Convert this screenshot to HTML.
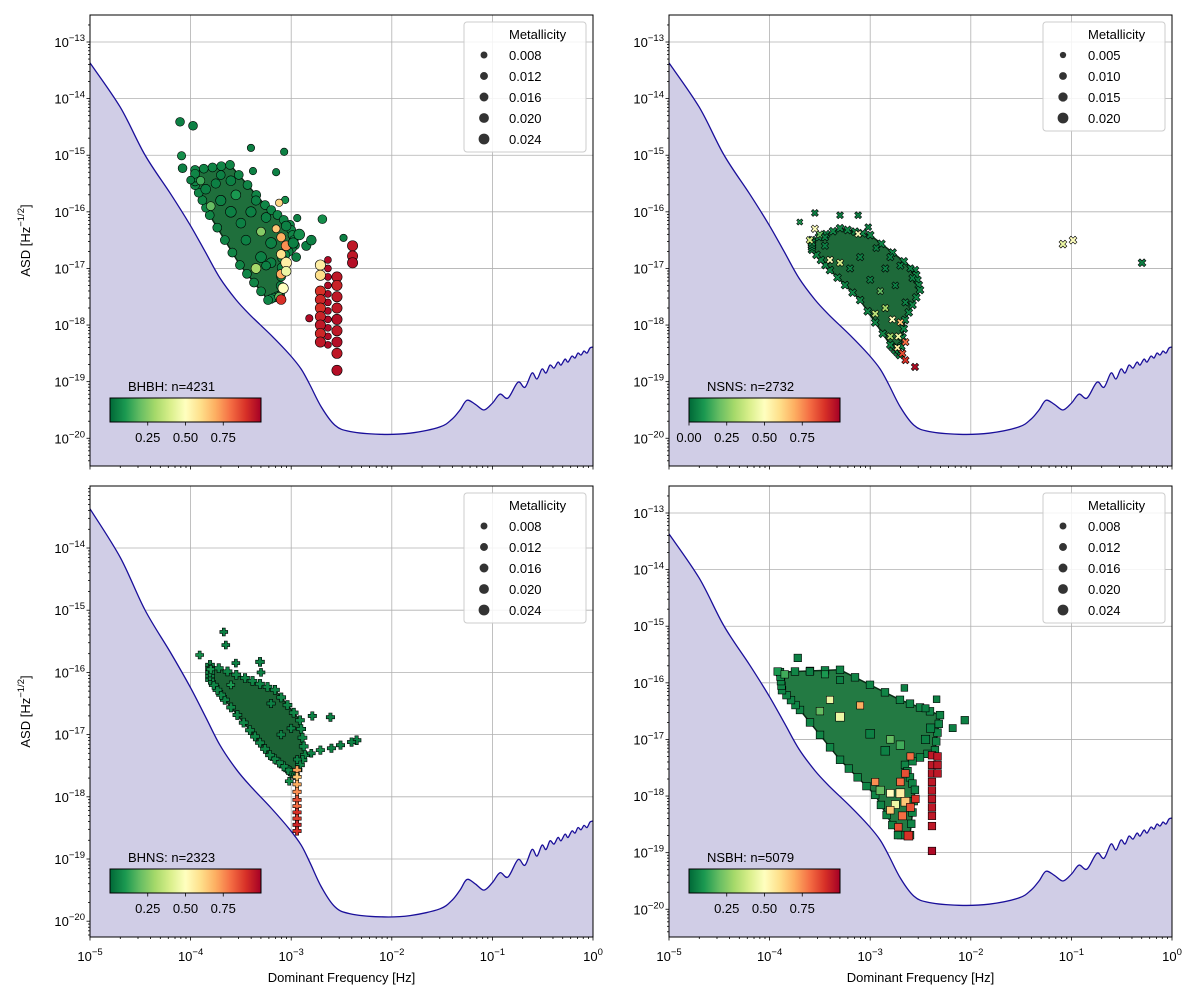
<!DOCTYPE html>
<html><head><meta charset="utf-8"><style>
html,body{margin:0;padding:0;background:#fff}
svg{display:block;font-family:"Liberation Sans","DejaVu Sans",sans-serif}
</style></head><body>
<svg id="fig" width="1200" height="1000" viewBox="0 0 1200 1000" xmlns="http://www.w3.org/2000/svg">
<defs>
<linearGradient id="cmap" x1="0" x2="1" y1="0" y2="0">
<stop offset="0" stop-color="#006837"/><stop offset="0.1" stop-color="#1a9850"/><stop offset="0.2" stop-color="#66bd63"/><stop offset="0.3" stop-color="#a6d96a"/><stop offset="0.4" stop-color="#d9ef8b"/><stop offset="0.5" stop-color="#ffffbf"/><stop offset="0.6" stop-color="#fee08b"/><stop offset="0.7" stop-color="#fdae61"/><stop offset="0.8" stop-color="#f46d43"/><stop offset="0.9" stop-color="#d73027"/><stop offset="1" stop-color="#a50026"/>
</linearGradient>
</defs>
</svg>
<script>
// ---- sensitivity curve data (log10 f, log10 ASD) ----
const curveLogF = [-5.00,-4.70,-4.453,-4.20,-4.006,-3.85,-3.708,-3.55,-3.410,-3.20,-3.012,-2.90,-2.813,-2.70,-2.565,-2.416,-2.117,-1.819,-1.521,-1.40,-1.322,-1.253,-1.17,-1.084,-1.00,-0.924,-0.845,-0.746,-0.676,-0.606,-0.557,-0.507,-0.467,-0.427,-0.388,-0.348,-0.318,-0.278,-0.249,-0.209,-0.179,-0.149,-0.119,-0.089,-0.060,-0.030,0.000];
const curveLogA = [-13.37,-14.15,-14.997,-15.68,-16.23,-16.72,-17.17,-17.55,-17.82,-18.18,-18.53,-18.78,-19.06,-19.45,-19.77,-19.88,-19.93,-19.91,-19.80,-19.66,-19.50,-19.33,-19.40,-19.50,-19.38,-19.22,-19.29,-19.01,-19.10,-18.848,-18.954,-18.777,-18.848,-18.707,-18.760,-18.654,-18.707,-18.601,-18.654,-18.548,-18.583,-18.495,-18.530,-18.459,-18.495,-18.406,-18.389];

// ---- scatter data: [log10 f, log10 ASD, colour value, metallicity] ----
const bhbhCore = [[-3.956,-15.26],[-3.608,-15.17],[-3.26,-15.88],[-3.012,-16.23],[-2.962,-16.59],[-3.09,-16.82],[-3.11,-17.47],[-3.23,-17.56],[-3.51,-16.94],[-3.81,-16.06],[-3.956,-15.53]];
const bhbhPoints = [
[-4.105,-14.41,0.05,0.016],[-3.976,-14.48,0.05,0.016],[-4.09,-15.01,0.08,0.014],[-4.08,-15.23,0.05,0.016],[-4.0,-15.44,0.05,0.012],
[-3.40,-14.87,0.05,0.010],[-3.07,-14.94,0.05,0.010],[-3.15,-15.30,0.05,0.010],[-3.06,-15.79,0.08,0.010],[-3.12,-15.84,0.62,0.010],
[-2.94,-16.11,0.05,0.010],[-2.69,-16.13,0.08,0.016],[-2.48,-16.46,0.05,0.010],[-3.38,-15.28,0.05,0.010],
[-3.9,-15.45,0.15,0.014],[-3.85,-15.6,0.05,0.02],[-3.75,-15.5,0.05,0.018],[-3.7,-15.35,0.05,0.016],[-3.6,-15.45,0.05,0.02],[-3.55,-15.7,0.1,0.02],
[-3.7,-15.8,0.05,0.022],[-3.8,-15.9,0.2,0.016],[-3.6,-16.0,0.05,0.024],[-3.5,-16.2,0.05,0.02],[-3.4,-16.0,0.05,0.022],[-3.35,-15.8,0.05,0.018],
[-3.45,-16.5,0.05,0.02],[-3.3,-16.35,0.25,0.016],[-3.25,-16.1,0.05,0.02],[-3.2,-16.55,0.05,0.024],[-3.15,-16.3,0.65,0.012],[-3.1,-16.45,0.7,0.016],
[-3.05,-16.25,0.05,0.02],[-3.05,-16.6,0.75,0.02],[-3.1,-16.75,0.6,0.018],[-3.05,-16.9,0.55,0.024],[-3.2,-16.9,0.05,0.02],[-3.3,-16.8,0.05,0.024],
[-3.1,-17.1,0.7,0.018],[-3.05,-17.05,0.45,0.02],[-3.08,-17.35,0.5,0.022],[-3.12,-17.5,0.2,0.016],[-3.1,-17.55,0.9,0.02],[-2.98,-16.55,0.05,0.022],
[-2.92,-16.4,0.08,0.024],[-2.85,-16.6,0.05,0.018],[-2.8,-16.5,0.05,0.02],[-2.95,-16.8,0.05,0.016],[-3.35,-17.0,0.3,0.02],[-3.25,-16.95,0.05,0.016],
[-2.635,-16.85,0.98,0.008],[-2.635,-17.0,0.98,0.008],[-2.635,-17.15,0.98,0.008],[-2.635,-17.3,0.98,0.008],[-2.635,-17.45,0.98,0.008],[-2.635,-17.6,0.98,0.008],
[-2.635,-17.75,0.98,0.008],[-2.635,-17.9,0.98,0.008],[-2.635,-18.05,0.98,0.008],[-2.635,-18.2,0.98,0.008],[-2.635,-18.35,0.98,0.008],
[-2.71,-16.94,0.55,0.022],[-2.71,-17.12,0.6,0.022],[-2.71,-17.4,0.9,0.022],[-2.71,-17.55,0.92,0.022],[-2.71,-17.7,0.9,0.022],[-2.71,-17.85,0.93,0.022],
[-2.71,-18.0,0.95,0.022],[-2.71,-18.15,0.92,0.022],[-2.71,-18.3,0.95,0.022],
[-2.545,-17.15,0.95,0.022],[-2.545,-17.3,0.93,0.022],[-2.545,-17.5,0.95,0.022],[-2.545,-17.7,0.95,0.022],[-2.545,-17.9,0.97,0.022],[-2.545,-18.1,0.95,0.022],
[-2.545,-18.3,0.97,0.022],[-2.545,-18.5,0.95,0.022],[-2.545,-18.8,0.97,0.022],
[-2.39,-16.6,0.95,0.022],[-2.39,-16.78,0.95,0.022],[-2.39,-16.9,0.97,0.022],[-2.82,-17.88,0.98,0.010]];

const nsnsCore = [[-3.579,-16.50],[-3.30,-16.29],[-3.0,-16.41],[-2.555,-17.03],[-2.505,-17.38],[-2.654,-17.91],[-2.704,-18.53],[-2.80,-18.35],[-3.10,-17.56],[-3.40,-17.03],[-3.579,-16.67]];
const nsnsPoints = [
[-3.70,-16.18,0.1,0.008],[-3.55,-16.02,0.05,0.012],[-3.30,-16.06,0.05,0.012],[-3.12,-16.06,0.05,0.012],[-3.02,-16.27,0.05,0.012],[-2.94,-16.64,0.05,0.012],
[-3.55,-16.3,0.5,0.014],[-3.12,-16.39,0.5,0.012],[-3.5,-16.4,0.2,0.014],[-3.45,-16.45,0.05,0.014],[-3.6,-16.5,0.4,0.014],[-3.4,-16.85,0.5,0.014],
[-3.3,-16.9,0.4,0.014],[-3.2,-17.0,0.05,0.014],[-3.1,-16.8,0.05,0.014],[-2.8,-16.8,0.05,0.014],[-2.7,-16.95,0.05,0.014],[-2.6,-17.0,0.05,0.014],
[-2.58,-17.17,0.05,0.014],[-2.75,-17.3,0.05,0.012],[-2.9,-17.4,0.2,0.012],[-2.85,-17.7,0.3,0.014],[-2.95,-17.8,0.35,0.014],[-2.78,-17.9,0.5,0.014],
[-2.7,-17.95,0.65,0.012],[-2.72,-18.2,0.45,0.014],[-2.8,-18.2,0.3,0.014],[-2.73,-18.4,0.55,0.012],[-2.65,-18.3,0.8,0.014],[-2.68,-18.5,0.85,0.014],
[-2.65,-18.62,0.9,0.014],[-2.555,-18.74,0.97,0.014],[-1.084,-16.57,0.45,0.016],[-0.984,-16.50,0.5,0.016],[-0.298,-16.90,0.05,0.016],
[-3.45,-16.6,0.05,0.014],[-3.0,-17.2,0.05,0.014],[-2.65,-17.6,0.05,0.014],[-2.85,-17.0,0.05,0.014]];

const bhnsCore = [[-3.807,-15.88],[-3.459,-16.09],[-3.161,-16.28],[-2.913,-16.77],[-2.863,-17.33],[-2.962,-17.65],[-3.03,-17.57],[-3.211,-17.33],[-3.41,-16.93],[-3.66,-16.44],[-3.807,-16.12]];
const bhnsPoints = [
[-3.67,-15.35,0.05,0.012],[-3.65,-15.56,0.05,0.012],[-3.91,-15.72,0.08,0.012],[-3.31,-15.83,0.05,0.016],[-3.8,-15.95,0.1,0.012],[-3.55,-15.85,0.05,0.012],
[-3.3,-16.0,0.05,0.012],[-2.79,-16.70,0.05,0.014],[-2.61,-16.72,0.05,0.014],[-2.35,-17.09,0.05,0.016],[-2.4,-17.12,0.05,0.014],[-2.51,-17.17,0.05,0.014],
[-2.6,-17.22,0.05,0.014],[-2.71,-17.25,0.08,0.014],[-2.8,-17.3,0.05,0.012],[-2.94,-17.4,0.05,0.012],[-3.02,-17.75,0.08,0.012],[-3.2,-16.5,0.05,0.014],
[-3.6,-16.2,0.1,0.012],[-3.0,-16.9,0.05,0.014],[-3.1,-17.0,0.05,0.014],
[-2.942,-17.57,0.72,0.014],[-2.942,-17.68,0.65,0.014],[-2.942,-17.8,0.7,0.014],[-2.942,-17.92,0.75,0.014],[-2.942,-18.05,0.85,0.014],
[-2.942,-18.15,0.8,0.014],[-2.942,-18.25,0.9,0.014],[-2.942,-18.35,0.88,0.014],[-2.942,-18.45,0.92,0.014],[-2.942,-18.55,0.9,0.014]];

const nsbhCore = [[-3.897,-15.81],[-3.30,-15.77],[-2.704,-16.30],[-2.306,-16.57],[-2.356,-17.19],[-2.654,-17.45],[-2.555,-17.89],[-2.604,-18.69],[-2.724,-18.69],[-2.95,-17.98],[-3.30,-17.36],[-3.698,-16.48],[-3.877,-16.13]];
const nsbhPoints = [
[-3.72,-15.56,0.05,0.016],[-3.92,-15.8,0.1,0.016],[-3.85,-15.85,0.15,0.016],[-3.6,-15.8,0.05,0.016],[-3.45,-15.85,0.1,0.014],[-3.3,-15.95,0.05,0.014],
[-2.66,-16.09,0.05,0.012],[-2.06,-16.66,0.05,0.016],[-2.18,-16.80,0.05,0.014],[-2.34,-16.29,0.05,0.012],[-2.45,-16.45,0.05,0.014],[-2.4,-16.8,0.05,0.02],
[-2.45,-17.0,0.05,0.02],[-3.3,-16.6,0.45,0.022],[-3.1,-16.4,0.7,0.014],[-3.4,-16.3,0.45,0.014],[-3.5,-16.5,0.2,0.016],[-3.0,-16.9,0.05,0.022],
[-2.8,-17.0,0.2,0.016],[-2.85,-17.2,0.05,0.022],[-2.7,-17.1,0.15,0.02],
[-2.95,-17.75,0.75,0.014],[-2.9,-17.9,0.2,0.02],[-2.8,-17.95,0.5,0.016],[-2.7,-17.95,0.55,0.022],[-2.75,-18.15,0.45,0.018],[-2.65,-18.1,0.65,0.022],
[-2.8,-18.25,0.65,0.016],[-2.68,-18.35,0.8,0.018],[-2.6,-18.2,0.85,0.018],[-2.55,-18.05,0.9,0.016],[-2.72,-18.55,0.85,0.016],[-2.62,-18.7,0.9,0.022],
[-2.7,-17.75,0.8,0.016],[-2.65,-17.6,0.85,0.016],[-2.6,-17.3,0.8,0.014],
[-2.386,-17.28,0.95,0.016],[-2.386,-17.45,0.95,0.016],[-2.386,-17.6,0.95,0.016],[-2.386,-17.75,0.95,0.016],[-2.386,-17.9,0.95,0.016],
[-2.386,-18.05,0.95,0.016],[-2.386,-18.2,0.95,0.016],[-2.386,-18.35,0.95,0.016],[-2.33,-17.3,0.95,0.016],[-2.33,-17.45,0.95,0.016],
[-2.33,-17.6,0.95,0.016],[-2.386,-18.53,0.95,0.016],[-2.386,-18.97,0.98,0.016]];

const xTickExp = [-5,-4,-3,-2,-1,0];
const legendMetalsA = ["0.008","0.012","0.016","0.020","0.024"];
const legendMetalsB = ["0.005","0.010","0.015","0.020"];
const cbarTicksA = ["0.25","0.50","0.75"];
const cbarTicksB = ["0.00","0.25","0.50","0.75"];

const NS = "http://www.w3.org/2000/svg";
const svg = document.getElementById('fig');
function el(tag, attrs, parent){ const e=document.createElementNS(NS,tag); for(const k in attrs) e.setAttribute(k,attrs[k]); (parent||svg).appendChild(e); return e; }

const cstops = [[0,[0,104,55]],[0.1,[26,152,80]],[0.2,[102,189,99]],[0.3,[166,217,106]],[0.4,[217,239,139]],[0.5,[255,255,191]],[0.6,[254,224,139]],[0.7,[253,174,97]],[0.8,[244,109,67]],[0.9,[215,48,39]],[1,[165,0,38]]];
function cmap(v){ v=Math.max(0,Math.min(1,v)); for(let i=0;i<cstops.length-1;i++){ const a=cstops[i],b=cstops[i+1]; if(v<=b[0]){ const t=(v-a[0])/(b[0]-a[0]); return 'rgb('+a[1].map((c,j)=>Math.round(c+(b[1][j]-c)*t)).join(',')+')'; } } return 'rgb(165,0,38)'; }

function smoothPath(P){
  let d='M'+P[0][0].toFixed(1)+','+P[0][1].toFixed(1);
  for(let i=0;i<P.length-1;i++){
    const p0=P[Math.max(0,i-1)], p1=P[i], p2=P[i+1], p3=P[Math.min(P.length-1,i+2)];
    const c1=[p1[0]+(p2[0]-p0[0])/6, p1[1]+(p2[1]-p0[1])/6];
    const c2=[p2[0]-(p3[0]-p1[0])/6, p2[1]-(p3[1]-p1[1])/6];
    d+=' C'+c1[0].toFixed(1)+','+c1[1].toFixed(1)+' '+c2[0].toFixed(1)+','+c2[1].toFixed(1)+' '+p2[0].toFixed(1)+','+p2[1].toFixed(1);
  }
  return d;
}

const panels = [
 {id:'bhbh', l:90, t:15, yMax:-12.523, yMin:-20.49, yTicks:[-13,-14,-15,-16,-17,-18,-19,-20], pts:bhbhPoints, core:bhbhCore, coreFill:'#1f6f3c', marker:'circle', label:'BHBH: n=4231', metals:legendMetalsA, cb:cbarTicksA, xlabels:false, ylab:true},
 {id:'nsns', l:669, t:15, yMax:-12.523, yMin:-20.49, yTicks:[-13,-14,-15,-16,-17,-18,-19,-20], pts:nsnsPoints, core:nsnsCore, coreFill:'#1e6a3a', marker:'x', label:'NSNS: n=2732', metals:legendMetalsB, cb:cbarTicksB, xlabels:false, ylab:false},
 {id:'bhns', l:90, t:486, yMax:-13.003, yMin:-20.254, yTicks:[-14,-15,-16,-17,-18,-19,-20], pts:bhnsPoints, core:bhnsCore, coreFill:'#1c6436', marker:'plus', label:'BHNS: n=2323', metals:legendMetalsA, cb:cbarTicksA, xlabels:true, ylab:true},
 {id:'nsbh', l:669, t:486, yMax:-12.523, yMin:-20.49, yTicks:[-13,-14,-15,-16,-17,-18,-19,-20], pts:nsbhPoints, core:nsbhCore, coreFill:'#237a43', marker:'square', label:'NSBH: n=5079', metals:legendMetalsA, cb:cbarTicksA, xlabels:true, ylab:false}
];
const W=503, H=451;

function drawMarker(g, kind, x, y, r, fill){
  let m;
  if(kind==='circle'){ m=el('circle',{cx:x,cy:y,r:r,fill:fill,stroke:'#000','stroke-width':0.6},g); }
  else if(kind==='square'){ const s=r*1.7; m=el('rect',{x:x-s/2,y:y-s/2,width:s,height:s,fill:fill,stroke:'#000','stroke-width':0.6},g); }
  else if(kind==='plus'){ const a=r, b=r*0.38; m=el('polygon',{points:[[-b,-a],[b,-a],[b,-b],[a,-b],[a,b],[b,b],[b,a],[-b,a],[-b,b],[-a,b],[-a,-b],[-b,-b]].map(p=>(x+p[0])+','+(y+p[1])).join(' '),fill:fill,stroke:'#000','stroke-width':0.6},g); }
  else { const a=r*0.95, b=r*0.3; const base=[[-b,-a],[b,-a],[b,-b],[a,-b],[a,b],[b,b],[b,a],[-b,a],[-b,b],[-a,b],[-a,-b],[-b,-b]]; const c=Math.SQRT1_2; m=el('polygon',{points:base.map(p=>(x+(p[0]-p[1])*c)+','+(y+(p[0]+p[1])*c)).join(' '),fill:fill,stroke:'#000','stroke-width':0.6},g); }
  return m;
}
function sup(parent, x, y, exp, anchor){
  const t=el('text',{x:x,y:y,'font-size':13,'text-anchor':anchor,fill:'#000'},parent);
  t.appendChild(document.createTextNode('10'));
  const s=el('tspan',{dy:-6,'font-size':9.5},t); s.textContent='\u2212'+Math.abs(exp);
  if(exp===0) s.textContent='0';
  return t;
}

panels.forEach(p=>{
  const fx = lf => p.l + (lf+5)/5*W;
  const fy = la => p.t + (p.yMax-la)/(p.yMax-p.yMin)*H;
  const g = el('g',{});
  
  
  const clipId='clip-'+p.id;
  const cp=el('clipPath',{id:clipId},g); el('rect',{x:p.l,y:p.t,width:W,height:H},cp);
  const grid=el('g',{stroke:'#b0b0b0','stroke-width':0.8},g);
  
  
  xTickExp.forEach(e=>{ const x=fx(e); el('line',{x1:x,x2:x,y1:p.t,y2:p.t+H},grid); });
  p.yTicks.forEach(e=>{ const y=fy(e); el('line',{x1:p.l,x2:p.l+W,y1:y,y2:y},grid); });
  const cg=el('g',{'clip-path':'url(#'+clipId+')'},g);
  const P=curveLogF.map((f,i)=>[fx(f),fy(curveLogA[i])]);
  const d=smoothPath(P);
  const fill=el('path',{d:d+' L'+(p.l+W+2)+','+(p.t+H+2)+' L'+p.l+','+(p.t+H+2)+' Z',fill:'#d0cde6',stroke:'none'},cg);
  
  
  const line=el('path',{d:d,fill:'none',stroke:'#1a0f9a','stroke-width':1.3},cg);
  
  
  const core=el('polygon',{points:p.core.map(q=>fx(q[0]).toFixed(1)+','+fy(q[1]).toFixed(1)).join(' '),fill:p.coreFill,stroke:'#0b2a16','stroke-width':1.5,'stroke-linejoin':'round'},cg);
  
  
  const sg=el('g',{},cg);
  
  
  // boundary markers interpolated along the dense cluster outline
  for(let i=0;i<p.core.length;i++){
    const a=p.core[i], b=p.core[(i+1)%p.core.length];
    for(let k=0;k<4;k++){
      const t=k/4;
      const m=drawMarker(sg, p.marker, fx(a[0]+(b[0]-a[0])*t), fy(a[1]+(b[1]-a[1])*t), 4.5, cmap(0.06));
      
      
    }
  }
  p.pts.forEach(q=>{
    const r = 3 + 120*(q[3]-0.004);
    const m = drawMarker(sg, p.marker, fx(q[0]), fy(q[1]), r, cmap(q[2]));
    
    
  });
  el('rect',{x:p.l,y:p.t,width:W,height:H,fill:'none',stroke:'#000','stroke-width':1},g);
  const tg=el('g',{stroke:'#000','stroke-width':0.8},g);
  xTickExp.forEach(e=>{ const x=fx(e); el('line',{x1:x,x2:x,y1:p.t+H,y2:p.t+H+3.5},tg);
    if(e<0) for(let k=2;k<10;k++){ const xm=fx(e+Math.log10(k)); el('line',{x1:xm,x2:xm,y1:p.t+H,y2:p.t+H+2},tg); } });
  for(let e=Math.ceil(p.yMin)-1;e<=Math.floor(p.yMax)+1;e++){
    for(let k=1;k<10;k++){ const v=e+Math.log10(k); if(v<p.yMin||v>p.yMax) continue; const y=fy(v);
      el('line',{x1:p.l-(k===1?3.5:2),x2:p.l,y1:y,y2:y},tg); } }
  p.yTicks.forEach(e=>{ const t=sup(g, p.l-5, fy(e)+5, e, 'end');   });
  if(p.xlabels){
    xTickExp.forEach(e=>{ const t=sup(g, fx(e), p.t+H+24, e, 'middle');   });
    const xl=el('text',{x:p.l+W/2,y:p.t+H+45,'font-size':13,'text-anchor':'middle'},g); xl.textContent='Dominant Frequency [Hz]';
     
  }
  if(p.ylab){
    const cy=p.t+H/2;
    const yl=el('text',{x:0,y:0,'font-size':13,'text-anchor':'middle',transform:'translate(30,'+cy+') rotate(-90)'},g);
    yl.appendChild(document.createTextNode('ASD [Hz'));
    const s=el('tspan',{dy:-6,'font-size':9.5},yl); s.textContent='\u22121/2';
    const s2=el('tspan',{dy:6},yl); s2.textContent=']';
     
  }
  const lx=p.l+374, ly=p.t+7, lh=p.metals.length===5?130:109;
  const lg=el('g',{},g);
  
  
  el('rect',{x:lx,y:ly,width:122,height:lh,rx:3,fill:'#fff','fill-opacity':0.85,stroke:'#cccccc','stroke-width':1},lg);
  const lt=el('text',{x:lx+45,y:ly+17,'font-size':13},lg); lt.textContent='Metallicity';
  p.metals.forEach((m,i)=>{
    const yy=ly+38+i*21;
    const r = 3 + 120*(parseFloat(m)-0.004)*(p.metals.length===4?1.25:1);
    const d=el('circle',{cx:lx+20,cy:yy-5,r:Math.min(r,6),fill:'#333'},lg);
     
    const t=el('text',{x:lx+45,y:yy,'font-size':13},lg); t.textContent=m;
     
  });
  const bx=p.l+20, by=p.t+383, bw=151, bh=24;
  const cbg=el('g',{},g);
  
  
  const ct=el('text',{x:bx+18,y:by-7,'font-size':13},cbg); ct.textContent=p.label;
  el('rect',{x:bx,y:by,width:bw,height:bh,fill:'url(#cmap)',stroke:'#000','stroke-width':1},cbg);
  p.cb.forEach(v=>{ const x=bx+parseFloat(v)*bw; el('line',{x1:x,x2:x,y1:by+bh,y2:by+bh+3.5,stroke:'#000','stroke-width':0.8},cbg);
    const t=el('text',{x:x,y:by+bh+20,'font-size':13,'text-anchor':'middle'},cbg); t.textContent=v; });
});
</script>
</body></html>
